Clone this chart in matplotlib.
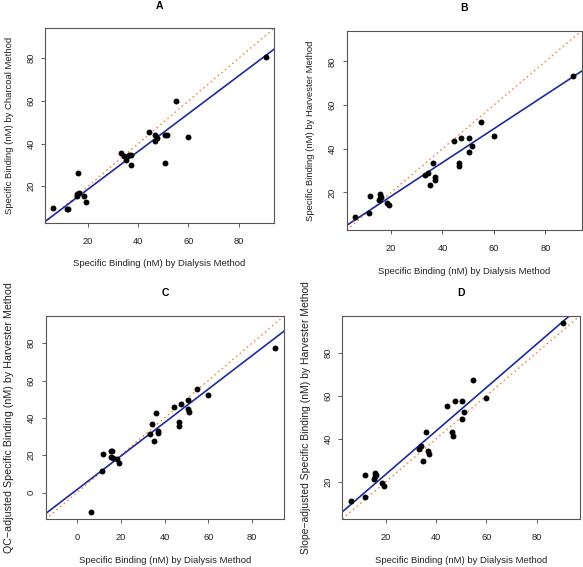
import numpy as np
import matplotlib; matplotlib.use('Agg')
import matplotlib.pyplot as plt
from matplotlib.ticker import MultipleLocator

plt.rcParams['font.family'] = ['Liberation Sans', 'DejaVu Sans']

# dialysis method (shared x)
dialysis = [6.2, 11.6, 11.8, 15.4, 15.7, 15.9, 16.2, 18.3, 19.2, 33.2, 34.2, 35.0, 36.2,
            37.0, 37.2, 44.4, 46.5, 46.6, 47.4, 50.5, 50.5, 51.3, 54.9, 59.9, 90.7]

charcoal = [9.7, 9.4, 9.2, 15.5, 16.1, 26.3, 16.7, 15.5, 12.7, 35.7, 34.3, 32.1, 34.5,
            34.5, 29.9, 45.6, 41.3, 43.9, 42.8, 30.9, 43.8, 43.8, 60.1, 43.2, 80.4]

harvester = [8.9, 10.4, 18.3, 16.6, 17.7, 19.1, 18.0, 15.4, 14.2, 27.9, 28.7, 23.4, 33.6,
             26.9, 25.6, 43.4, 33.6, 32.2, 44.9, 44.9, 38.6, 41.1, 52.5, 46.0, 73.3]

qc_adj = [-10.3, 11.4, 20.7, 18.8, 22.3, 22.0, 18.4, 17.7, 15.9, 31.4, 36.6, 27.5, 42.5,
          33.0, 31.8, 45.9, 38.0, 35.5, 47.3, 49.5, 45.0, 43.4, 55.5, 52.0, 77.5]

slope_adj = [11.3, 13.0, 23.4, 21.2, 22.6, 24.2, 23.0, 19.5, 18.0, 35.5, 36.6, 29.8, 43.1,
             34.4, 33.0, 55.5, 43.3, 41.1, 57.4, 57.4, 49.3, 52.6, 67.3, 58.8, 93.8]

# fitted lines as drawn in the chart (intercept, slope)
fit_int = [0.87, 2.76, 1.6, 3.3]
fit_slope = [0.886, 0.774, 0.897, 1.009]

titles = ['A', 'B', 'C', 'D']
xlab = 'Specific Binding (nM) by Dialysis Method'
ylabs = ['Specific Binding (nM) by Charcoal Method',
         'Specific Binding (nM) by Harvester Method',
         'QC\u2212adjusted Specific Binding (nM) by Harvester Method',
         'Slope\u2212adjusted Specific Binding (nM) by Harvester Method']
ylab_size = [6.8, 6.8, 7.7, 7.5]
panels = [charcoal, harvester, qc_adj, slope_adj]

W, H = 583, 567
boxes = [(45, 28.3, 274, 222.7), (346.7, 30.7, 581.7, 230),
         (45.7, 315.7, 284.3, 519.3), (342.3, 315.7, 580, 519)]

fig = plt.figure(figsize=(W / 100, H / 100), dpi=100)

x = np.array(dialysis)
for i, (title, ylab, yv, (l, t, r, b)) in enumerate(zip(titles, ylabs, panels, boxes)):
    ax = fig.add_axes([l / W, 1 - b / H, (r - l) / W, (b - t) / H])
    y = np.array(yv)
    lo = min(x.min(), y.min()); hi = max(x.max(), y.max())
    pad = 0.04 * (hi - lo)
    lim = (lo - pad, hi + pad)
    ax.set_xlim(lim); ax.set_ylim(lim)

    ax.scatter(x, y, s=18, color='black', zorder=3, linewidths=0)
    xx = np.array(lim)
    ax.plot(xx, xx, color='#f4874b', lw=1.0, ls=(0, (1.2, 2.2)), zorder=2)
    ax.plot(xx, fit_int[i] + fit_slope[i] * xx, color='#1f2a9e', lw=1.2, zorder=2)

    ax.xaxis.set_major_locator(MultipleLocator(20))
    ax.yaxis.set_major_locator(MultipleLocator(20))
    ax.tick_params(labelsize=6.7, length=3, width=0.6, color='#444444', pad=4,
                   labelcolor='#222222')
    ax.tick_params(axis='x', pad=7)
    for lab in ax.get_yticklabels():
        lab.set_rotation(90); lab.set_va('center')
    for s in ax.spines.values():
        s.set_color('#555555'); s.set_linewidth(0.8)

    ax.set_xlabel(xlab, fontsize=6.8, labelpad=10, color='#222222')
    ax.set_ylabel(ylab, fontsize=ylab_size[i], labelpad=9, color='#222222')
    ax.set_title(title, fontsize=7.5, fontweight='bold', pad=14)

fig.savefig('out.png', dpi=100)
